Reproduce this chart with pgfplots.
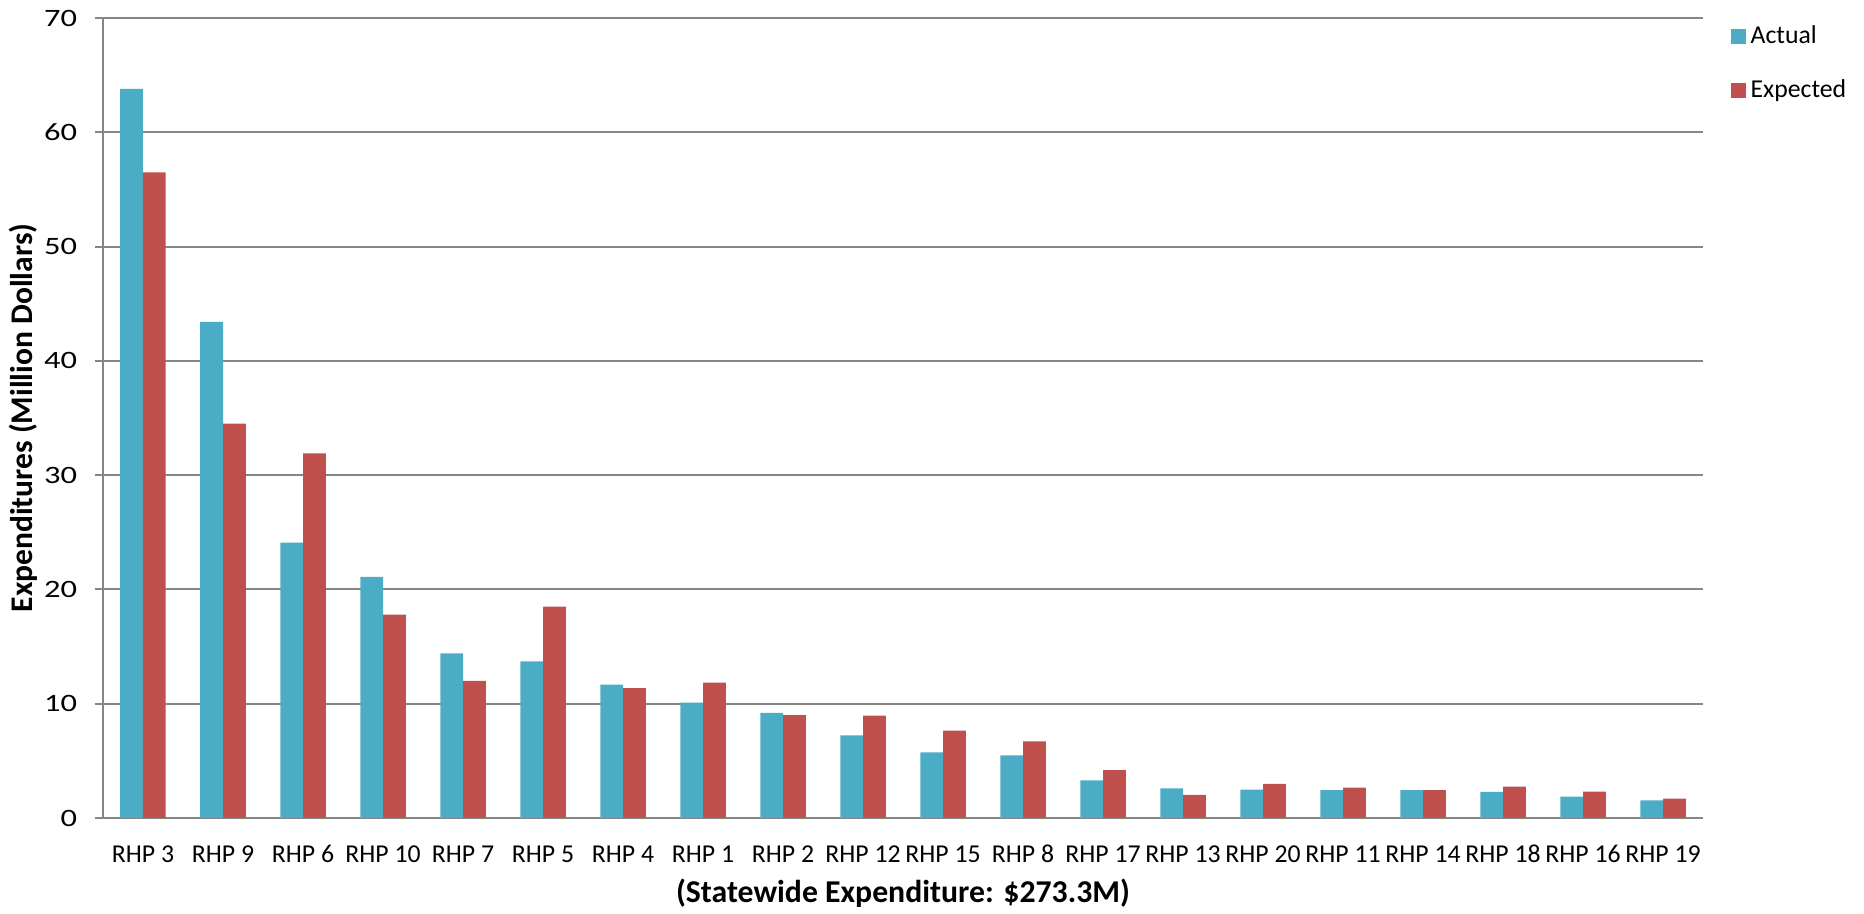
\documentclass[border=0pt]{standalone}
\usepackage{pgfplots}
\pgfplotsset{compat=1.18}
\usepackage{fontspec}
\setmainfont{Carlito}
\newfontfamily\wideff{Carlito}[FakeStretch=1.3]
\definecolor{actualc}{HTML}{4BACC6}
\definecolor{expectc}{HTML}{C0504D}
\definecolor{gridc}{HTML}{868686}
\begin{document}
\begin{tikzpicture}
\path[use as bounding box] (-41.2pt,-38.4pt) rectangle (704.4pt,327.2pt);
\begin{axis}[
  at={(0,0)}, anchor=south west,
  scale only axis, width=640pt, height=320pt,
  xmin=-0.5, xmax=19.5, ymin=0, ymax=70,
  ybar=0pt, bar width=9.1pt,
  axis x line*=bottom, axis y line*=left,
  axis line style={gridc, line width=0.8pt, -},
  xtick={0,...,19},
  xticklabels={RHP 3,RHP 9,RHP 6,RHP 10,RHP 7,RHP 5,RHP 4,RHP 1,RHP 2,RHP 12,RHP 15,RHP 8,RHP 17,RHP 13,RHP 20,RHP 11,RHP 14,RHP 18,RHP 16,RHP 19},
  x tick style={draw=none},
  minor xtick={-0.5,0.5,...,19.5},
  minor x tick style={gridc, line width=0.8pt},
  minor tick length=3.2pt,
  ytick={0,10,...,70},
  y tick style={gridc, line width=0.8pt},
  major tick length=3.2pt,
  tick align=outside,
  ymajorgrids, major grid style={gridc, line width=0.8pt},
  /pgf/number format/assume math mode=true,
  ticklabel style={font=\fontsize{10.3}{12}\selectfont, text=black},
  xticklabel style={anchor=base, yshift=-14.5pt},
  yticklabel style={anchor=east, xshift=-3.6pt, font=\wideff\fontsize{10}{12}\selectfont},
  xlabel={(Statewide Expenditure: \$273.3M)},
  ylabel={Expenditures (Million Dollars)},
  every axis x label/.style={at={(axis description cs:0.5,0)}, yshift=-30pt, anchor=center, font=\fontsize{12.7}{14}\selectfont\bfseries},
  every axis y label/.style={at={(axis description cs:0,0.5)}, xshift=-32pt, rotate=90, anchor=center, font=\fontsize{12.6}{14}\selectfont\bfseries},
  legend style={at={(1.0138,1.004)}, anchor=north west, draw=none, fill=none,
    font=\fontsize{10.3}{12}\selectfont, row sep=9pt, inner sep=2pt,
    /tikz/every even column/.append style={column sep=0pt}},
  legend cell align=left,
  legend image code/.code={\fill[#1] (0pt,-3pt) rectangle (6pt,3pt);},
]
\addplot[fill=actualc, draw=none] coordinates {
(0,63.8) (1,43.4) (2,24.1) (3,21.1) (4,14.4) (5,13.7) (6,11.66) (7,10.1) (8,9.2) (9,7.23)
(10,5.74) (11,5.48) (12,3.30) (13,2.60) (14,2.49) (15,2.43) (16,2.43) (17,2.28) (18,1.87) (19,1.55)};
\addplot[fill=expectc, draw=none] coordinates {
(0,56.5) (1,34.5) (2,31.9) (3,17.8) (4,12.0) (5,18.5) (6,11.37) (7,11.84) (8,9.0) (9,8.95)
(10,7.64) (11,6.71) (12,4.18) (13,2.02) (14,2.98) (15,2.66) (16,2.43) (17,2.75) (18,2.31) (19,1.70)};
\legend{Actual,Expected}
\end{axis}
\end{tikzpicture}
\end{document}
